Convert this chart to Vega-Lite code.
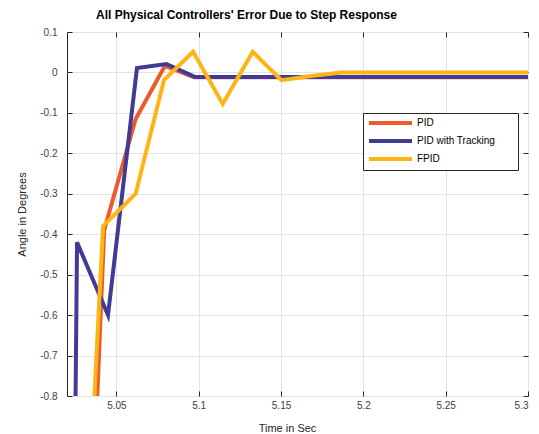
{
  "$schema": "https://vega.github.io/schema/vega-lite/v6.json",
  "width": 461,
  "height": 364,
  "autosize": "none",
  "padding": {"left": 67, "top": 32, "right": 11, "bottom": 38},
  "background": "white",
  "title": {
    "text": "All Physical Controllers' Error Due to Step Response",
    "anchor": "start",
    "frame": "group",
    "dx": 29,
    "offset": 5,
    "fontSize": 12,
    "fontWeight": "bold",
    "font": "Liberation Sans",
    "color": "#000000"
  },
  "data": {
    "values": [
      {"series": "PID", "t": 5.0083, "v": -3.5},
      {"series": "PID", "t": 5.0261, "v": -2.0},
      {"series": "PID", "t": 5.0426, "v": -0.39},
      {"series": "PID", "t": 5.0617, "v": -0.115},
      {"series": "PID", "t": 5.0794, "v": 0.016},
      {"series": "PID", "t": 5.0972, "v": -0.012},
      {"series": "PID", "t": 5.1150, "v": -0.012},
      {"series": "PID", "t": 5.1328, "v": -0.012},
      {"series": "PID", "t": 5.1506, "v": -0.012},
      {"series": "PID", "t": 5.1683, "v": -0.012},
      {"series": "PID", "t": 5.1861, "v": -0.012},
      {"series": "PID", "t": 5.2039, "v": -0.012},
      {"series": "PID", "t": 5.2217, "v": -0.012},
      {"series": "PID", "t": 5.2394, "v": -0.012},
      {"series": "PID", "t": 5.2572, "v": -0.012},
      {"series": "PID", "t": 5.2750, "v": -0.012},
      {"series": "PID", "t": 5.2928, "v": -0.012},
      {"series": "PID", "t": 5.3106, "v": -0.012},
      {"series": "PID with Tracking", "t": 5.0083, "v": -8.0},
      {"series": "PID with Tracking", "t": 5.0261, "v": -0.42},
      {"series": "PID with Tracking", "t": 5.0449, "v": -0.60},
      {"series": "PID with Tracking", "t": 5.0625, "v": 0.011},
      {"series": "PID with Tracking", "t": 5.0804, "v": 0.021},
      {"series": "PID with Tracking", "t": 5.0976, "v": -0.011},
      {"series": "PID with Tracking", "t": 5.1150, "v": -0.011},
      {"series": "PID with Tracking", "t": 5.1328, "v": -0.011},
      {"series": "PID with Tracking", "t": 5.1506, "v": -0.011},
      {"series": "PID with Tracking", "t": 5.1683, "v": -0.011},
      {"series": "PID with Tracking", "t": 5.1861, "v": -0.011},
      {"series": "PID with Tracking", "t": 5.2039, "v": -0.011},
      {"series": "PID with Tracking", "t": 5.2217, "v": -0.011},
      {"series": "PID with Tracking", "t": 5.2394, "v": -0.011},
      {"series": "PID with Tracking", "t": 5.2572, "v": -0.011},
      {"series": "PID with Tracking", "t": 5.2750, "v": -0.011},
      {"series": "PID with Tracking", "t": 5.2928, "v": -0.011},
      {"series": "PID with Tracking", "t": 5.3106, "v": -0.011},
      {"series": "FPID", "t": 5.0083, "v": -3.0},
      {"series": "FPID", "t": 5.0261, "v": -1.65},
      {"series": "FPID", "t": 5.0419, "v": -0.38},
      {"series": "FPID", "t": 5.0617, "v": -0.30},
      {"series": "FPID", "t": 5.0789, "v": -0.019},
      {"series": "FPID", "t": 5.0966, "v": 0.051},
      {"series": "FPID", "t": 5.1146, "v": -0.078},
      {"series": "FPID", "t": 5.1328, "v": 0.051},
      {"series": "FPID", "t": 5.1502, "v": -0.019},
      {"series": "FPID", "t": 5.1683, "v": -0.009},
      {"series": "FPID", "t": 5.1870, "v": 0.0},
      {"series": "FPID", "t": 5.2039, "v": 0.0},
      {"series": "FPID", "t": 5.2217, "v": 0.0},
      {"series": "FPID", "t": 5.2394, "v": 0.0},
      {"series": "FPID", "t": 5.2572, "v": 0.0},
      {"series": "FPID", "t": 5.2750, "v": 0.0},
      {"series": "FPID", "t": 5.2928, "v": 0.0},
      {"series": "FPID", "t": 5.3106, "v": 0.0}
    ]
  },
  "layer": [
    {
      "mark": {"type": "line", "strokeWidth": 4, "clip": true, "strokeJoin": "miter"},
      "encoding": {
        "x": {
          "field": "t", "type": "quantitative",
          "scale": {"domain": [5.02, 5.3], "nice": false, "zero": false},
          "axis": {
            "orient": "bottom",
            "values": [5.05, 5.1, 5.15, 5.2, 5.25, 5.3],
            "labelExpr": "'' + datum.value",
            "title": "Time in Sec",
            "titleX": 220,
            "titleY": 32,
            "titleBaseline": "middle",
            "titleAlign": "center",
            "labelPadding": 9,
            "labelBaseline": "top"
          }
        },
        "y": {
          "field": "v", "type": "quantitative",
          "scale": {"domain": [-0.8, 0.1], "nice": false, "zero": false},
          "axis": {
            "orient": "left",
            "values": [-0.8, -0.7, -0.6, -0.5, -0.4, -0.3, -0.2, -0.1, 0, 0.1],
            "labelExpr": "'' + datum.value",
            "title": "Angle in Degrees",
            "titleX": -45,
            "titleY": 182,
            "titleAngle": -90,
            "titleBaseline": "middle",
            "titleAlign": "center",
            "labelPadding": 15
          }
        },
        "color": {
          "field": "series", "type": "nominal",
          "scale": {
            "domain": ["PID", "PID with Tracking", "FPID"],
            "range": ["#EE5A2C", "#413B98", "#FDB515"]
          },
          "legend": {
            "title": null,
            "orient": "none",
            "legendX": 296,
            "legendY": 81,
            "symbolType": "M-0.8,0H7.8",
            "symbolSize": 100,
            "symbolStrokeWidth": 4,
            "rowPadding": 2,
            "labelOffset": 37,
            "padding": 3,
            "fillColor": "white",
            "strokeColor": "#262626",
            "labelFontSize": 10,
            "labelFont": "Liberation Sans",
            "labelColor": "#000000",
            "labelExpr": "datum.label == 'PID with Tracking' ? datum.label + '\u00a0\u00a0\u00a0\u00a0\u00a0\u00a0\u00a0\u200b' : datum.label"
          }
        }
      }
    },
    {
      "mark": {"type": "line", "opacity": 0},
      "encoding": {
        "x": {
          "field": "t", "type": "quantitative",
          "axis": {"orient": "top", "values": [5.05, 5.1, 5.15, 5.2, 5.25, 5.3], "labels": false, "grid": false, "title": null}
        },
        "y": {
          "field": "v", "type": "quantitative",
          "axis": {"orient": "right", "values": [-0.8, -0.7, -0.6, -0.5, -0.4, -0.3, -0.2, -0.1, 0, 0.1], "labels": false, "grid": false, "title": null}
        },
        "detail": {"field": "series"}
      }
    }
  ],
  "resolve": {"axis": {"x": "independent", "y": "independent"}},
  "config": {
    "view": {"stroke": "#262626", "strokeWidth": 1},
    "font": "Liberation Sans",
    "axis": {
      "domain": false,
      "grid": true,
      "gridColor": "#e3e3e3",
      "gridWidth": 1,
      "tickSize": -5,
      "tickColor": "#262626",
      "tickWidth": 1,
      "labelFontSize": 10,
      "labelFont": "Liberation Sans",
      "labelColor": "#404040",
      "titleFontSize": 11,
      "titleFont": "Liberation Sans",
      "titleFontWeight": "normal",
      "titleColor": "#262626"
    }
  }
}
